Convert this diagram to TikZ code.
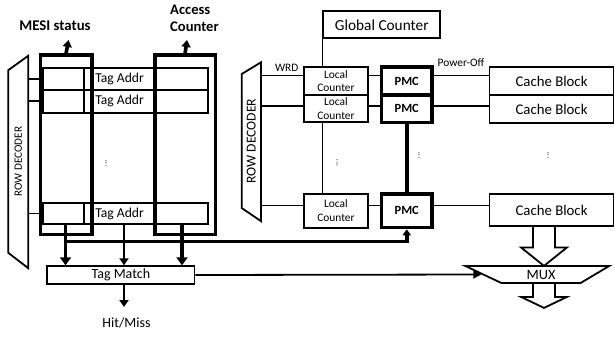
\documentclass[tikz,border=0pt]{standalone}
\usepackage{fontspec}
\setmainfont{Carlito}
\usetikzlibrary{shapes.geometric,arrows.meta,calc}
\newcommand\myfs[2]{\fontsize{#1}{#2}\selectfont}
\begin{document}
\begin{tikzpicture}[x=1pt,y=-1pt,
  norm/.style={line width=1.8pt},
  thickline/.style={line width=3.6pt},
  cell/.style={draw,line width=1.8pt,inner sep=0pt},
  thickbox/.style={draw,line width=3.6pt,inner sep=0pt},
  pmcbox/.style={draw,line width=3.5pt,inner sep=0pt,minimum width=50.5,font=\bfseries\myfs{12.5}{14}},
  lcbox/.style={draw,line width=1.8pt,inner sep=0pt,minimum width=64.6,align=center,font=\myfs{11.4}{13.5}},
  cbbox/.style={draw,line width=1.8pt,inner sep=0pt,minimum width=124,font=\myfs{14.8}{16}},
  decoder/.style={draw,line width=1.8pt,trapezium,trapezium stretches=true,inner sep=0pt,rotate=90},
  dots/.style={rotate=90,inner sep=0pt,font=\myfs{10}{10},text=black!75},
  small/.style={inner sep=0pt,font=\myfs{11.4}{13}},
  bigarrow/.style={thickline,-{Triangle[length=8pt,width=11pt]}},
  thinarrow/.style={norm,-{Triangle[length=7pt,width=9pt]}},
  blockarrow/.style={line width=1.8pt,line join=miter}
]
\useasboundingbox (0,0) rectangle (615,337);
\fill[white] (0,0) rectangle (615,337);

% ---- tag array rows
\foreach \r/\y/\h in {1/78.85/22.3, 2/101.35/22.7, 3/213.5/21} {
  \node[cell,minimum width=41.6,minimum height=\h] (cL\r) at (63.5,\y) {};
  \node[cell,minimum width=70.7,minimum height=\h,font=\myfs{13.6}{15}] (cM\r) at (119.65,\y) {Tag Addr};
  \node[cell,minimum width=52.7,minimum height=\h] (cR\r) at (181.35,\y) {};
}
\node[dots] (d1) at (106,163.5) {...};

% ---- thick columns
\node[thickbox,minimum width=51.2,minimum height=179.5] (mesi) at (66.1,144.75) {};
\node[thickbox,minimum width=60.8,minimum height=179.5] (acc) at (185.1,144.75) {};
\node[inner sep=0pt,font=\bfseries\myfs{14.8}{17}] (mesil) at (55,26) {MESI status};
\node[inner sep=0pt,font=\bfseries\myfs{14.6}{17.5},align=left,anchor=west] (accl) at (170,18.5) {Access\\Counter};
\coordinate (mesiout) at (68.5,40);
\coordinate (accout) at (187,40);
\draw[thickline,-{Triangle[length=7pt,width=9pt]}] (mesi.north) -- (mesiout);
\draw[thickline,-{Triangle[length=7pt,width=9pt]}] (acc.north) -- (accout);

% ---- left row decoder
\node[decoder,minimum width=213,minimum height=20,trapezium left angle=51.3,trapezium right angle=53.1,font=\myfs{11.2}{12}] (dec1) at (18.3,161.5) {ROW DECODER};
\foreach \i in {1,2,3} \draw[norm] (dec1.south |- cL\i.west) -- (cL\i.west);

% ---- tag match
\node[cell,minimum width=147.3,minimum height=17.6,font=\myfs{14}{16}] (tm) at (120.85,275) {Tag Match};
\coordinate (busL) at (65.5,241.3);
\coordinate (busR) at (182,241.3);
\coordinate (hmout) at (124,307);
\draw[bigarrow] (cL3.south -| busL) -- (tm.north -| busL);
\draw[bigarrow] (cR3.south -| busR) -- (tm.north -| busR);
\draw[thinarrow] (cM3.south -| hmout) -- (tm.north -| hmout);
\draw[thinarrow] (tm.south -| hmout) -- (hmout);
\node[inner sep=0pt,font=\myfs{14}{16}] (hm) at (126.5,323) {Hit/Miss};

% ---- right part
\node[cell,minimum width=117,minimum height=27.1,font=\myfs{15.3}{17}] (gc) at (381.8,24.75) {Global Counter};
\node[decoder,minimum width=160,minimum height=19.3,trapezium left angle=47,trapezium right angle=50.3,font=\myfs{13.6}{15}] (dec2) at (251.3,141) {ROW DECODER};

\node[lcbox,minimum height=27.8] (lc1) at (336,81.1) {Local\\Counter};
\node[lcbox,minimum height=26.7] (lc2) at (336,108.35) {Local\\Counter};
\node[lcbox,minimum height=34] (lc3) at (336,210.7) {Local\\Counter};

\node[pmcbox,minimum height=28] (pmc1) at (406.75,81) {PMC};
\node[pmcbox,minimum height=27.5] (pmc2) at (406.75,108.75) {PMC};
\node[pmcbox,minimum height=33.5] (pmc3) at (406.75,210.75) {PMC};

\node[cbbox,minimum height=28] (cb1) at (551.5,81) {Cache Block};
\node[cbbox,minimum height=28] (cb2) at (551.5,109) {Cache Block};
\node[cbbox,minimum height=32] (cb3) at (551.5,210) {Cache Block};

\coordinate (r1) at (0,75.5);
\coordinate (r2) at (0,106);
\coordinate (r3) at (0,205.5);
\foreach \i in {1,2,3} {
  \draw[norm] (dec2.south |- r\i) -- (lc\i.west |- r\i);
  \draw[norm] (lc\i.east |- r\i) -- (pmc\i.west |- r\i);
  \draw[norm] (pmc\i.east |- r\i) -- (cb\i.west |- r\i);
}
\draw[norm] (gc.south west) -- (gc.south west |- lc1.north);
\draw[norm] (lc2.south -| gc.south west) -- (lc3.north -| gc.south west);
\draw[thickline] (pmc2.south) -- (pmc3.north);

\node[small] (wrd) at (286.7,67.5) {WRD};
\node[small] (poff) at (461,63) {Power-Off};
\node[dots] (d2) at (337,163) {...};
\node[dots] (d3) at (419,155.5) {...};
\node[dots] (d4) at (548,155.5) {...};

% ---- bus to PMC
\draw[thickline,-{Triangle[length=6pt,width=8pt]}] (busL) -| (pmc3.south);

% ---- MUX
\node[draw,line width=1.8pt,trapezium,shape border rotate=180,trapezium stretches=true,minimum width=144,minimum height=17,trapezium left angle=41.8,trapezium right angle=35.3,inner sep=0pt,font=\myfs{14.3}{16}] (mux) at (541,274.5) {MUX};
\draw[norm,-{Triangle[length=8pt,width=8pt]}] (tm.east) -- (mux.west);

\coordinate (ba) at (544,0);
\draw[blockarrow] (cb3.south -| ba) ++(-11,0) -- ++(0,20.5) -- ++(-12,0) -- ++(23,18.5) -- ++(23,-18.5) -- ++(-12,0) -- ++(0,-20.5);
\draw[blockarrow] (mux.south -| ba) ++(-11,0) -- ++(0,13) -- ++(-12,0) -- ++(23,11) -- ++(23,-11) -- ++(-12,0) -- ++(0,-13);
\end{tikzpicture}
\end{document}
